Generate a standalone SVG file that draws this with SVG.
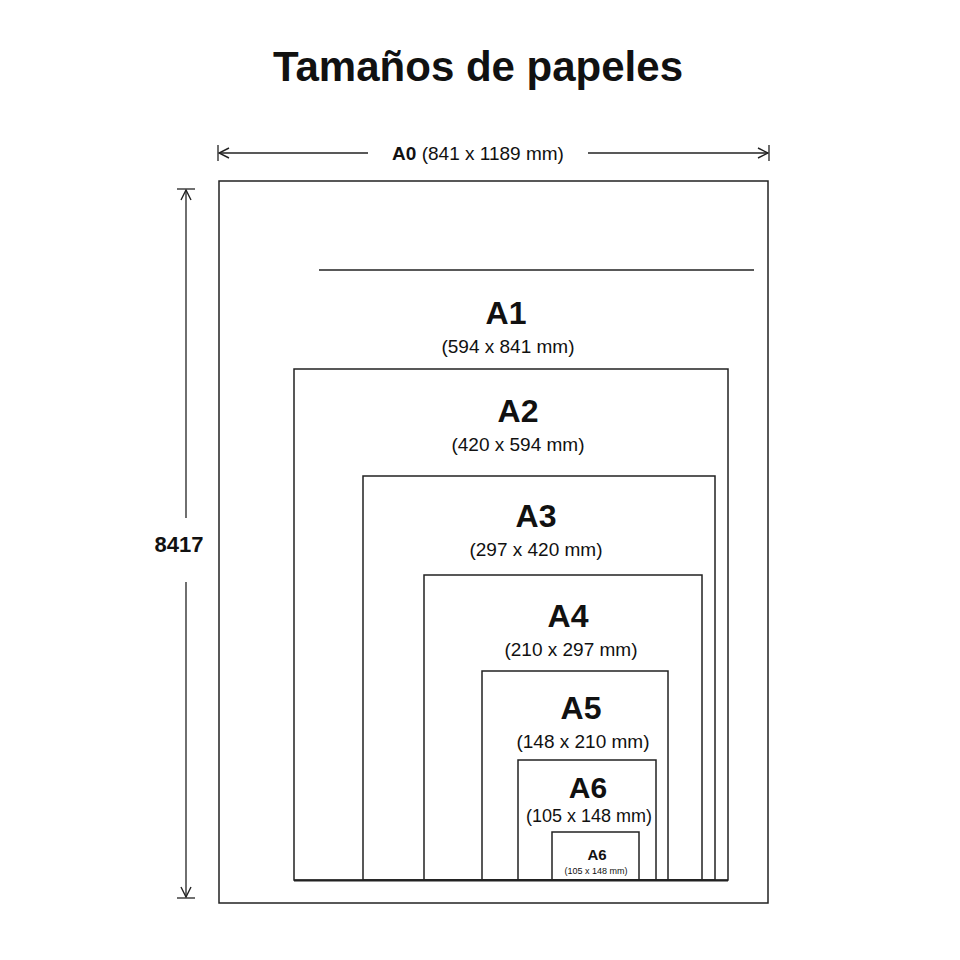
<svg xmlns="http://www.w3.org/2000/svg" width="960" height="960" viewBox="0 0 960 960">
<style>
.b{fill:none;stroke:#222;stroke-width:1.5}
.d{stroke:#222;stroke-width:1.3;fill:none}
text{font-family:"Liberation Sans",Arial,sans-serif;fill:#111;text-anchor:middle}
.h{font-weight:bold}
</style>
<defs><marker id="ar" markerWidth="12" markerHeight="12" refX="11" refY="6" orient="auto-start-reverse" markerUnits="userSpaceOnUse"><path d="M1,1 L11,6 L1,11" fill="none" stroke="#222" stroke-width="1.4"/></marker></defs>
<rect width="960" height="960" fill="#fff"/>
<text x="478" y="81" class="h" font-size="42">Tamaños de papeles</text>
<g id="connectors">
<line class="d" x1="218" y1="145" x2="218" y2="161"/><line class="d" x1="769" y1="145" x2="769" y2="161"/>
<line class="d" x1="219" y1="153" x2="368" y2="153" marker-start="url(#ar)"/>
<line class="d" x1="588" y1="153" x2="768" y2="153" marker-end="url(#ar)"/>
<line class="d" x1="177" y1="189" x2="195" y2="189"/><line class="d" x1="177" y1="898" x2="195" y2="898"/>
<line class="d" x1="186" y1="190" x2="186" y2="518" marker-start="url(#ar)"/>
<line class="d" x1="186" y1="582" x2="186" y2="897" marker-end="url(#ar)"/>
</g>
<text x="478" y="160" font-size="19"><tspan class="h">A0</tspan> (841 x 1189 mm)</text>
<text x="179" y="552" class="h" font-size="22">8417</text>
<g id="A0"><rect class="b" x="219" y="181" width="549" height="722"/><line class="b" x1="319" y1="270" x2="754" y2="270"/></g>
<g id="A1"><rect class="b" x="294" y="369" width="434" height="511"/><text x="506" y="324" class="h" font-size="32">A1</text><text x="508" y="353" font-size="19">(594 x 841 mm)</text></g>
<g id="A2"><rect class="b" x="363" y="476" width="352" height="404"/><text x="518" y="422" class="h" font-size="32">A2</text><text x="518" y="451" font-size="19">(420 x 594 mm)</text></g>
<g id="A3"><rect class="b" x="424" y="575" width="278" height="305"/><text x="536" y="527" class="h" font-size="32">A3</text><text x="536" y="556" font-size="19">(297 x 420 mm)</text></g>
<g id="A4"><rect class="b" x="482" y="671" width="186" height="209"/><text x="568" y="627" class="h" font-size="32">A4</text><text x="571" y="656" font-size="19">(210 x 297 mm)</text></g>
<g id="A5"><rect class="b" x="518" y="760" width="138" height="120"/><text x="581" y="719" class="h" font-size="32">A5</text><text x="583" y="748" font-size="19">(148 x 210 mm)</text></g>
<g id="A6"><text x="588" y="798" class="h" font-size="30">A6</text><text x="589" y="822" font-size="18">(105 x 148 mm)</text></g>
<g id="A6s"><rect class="b" x="552" y="832" width="87" height="48"/><text x="597" y="860" class="h" font-size="15">A6</text><text x="596" y="874" font-size="9">(105 x 148 mm)</text></g>
<line x1="294" y1="880.5" x2="728" y2="880.5" stroke="#222" stroke-width="2"/>
</svg>
